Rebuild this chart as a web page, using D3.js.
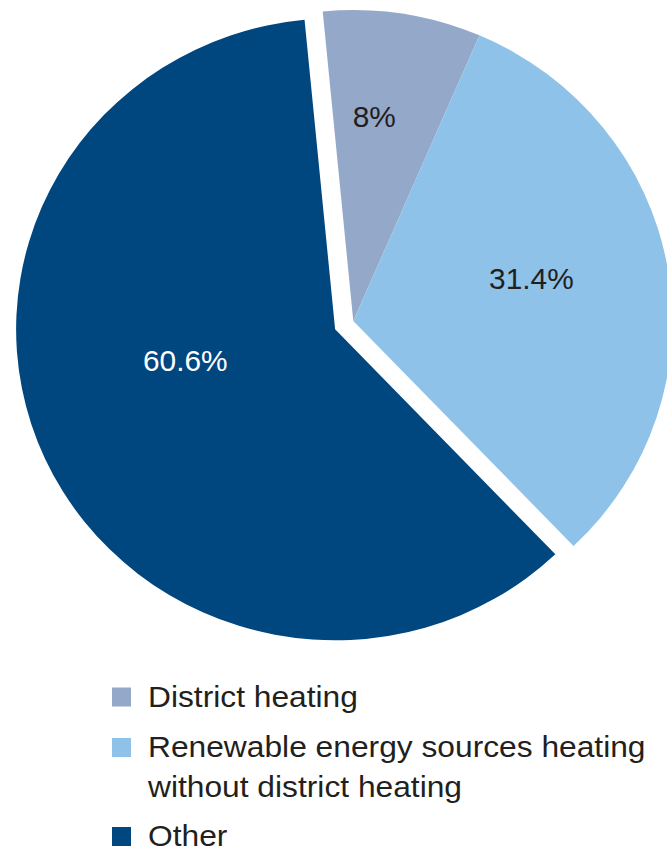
<!DOCTYPE html>
<html>
<head>
<meta charset="utf-8">
<script src="https://cdn.jsdelivr.net/npm/d3@7"></script>
<style>
  html, body { margin: 0; padding: 0; background: #fff; }
  svg { display: block; font-family: "Liberation Sans", Arial, sans-serif; }
</style>
</head>
<body>
<svg id="chart" width="667" height="850"></svg>
<script>
// Heating mix shares (%)
const categories = ["District heating", "Renewable energy sources heating without district heating", "Other"];
const legendLines = [["District heating"], ["Renewable energy sources heating", "without district heating"], ["Other"]];
const values = [8, 31.4, 60.6];
const valueLabels = ["8%", "31.4%", "60.6%"];
const colors = ["#94a9ca", "#8ec2e9", "#00467f"];
const labelColors = ["#231f20", "#231f20", "#ffffff"];

const svg = d3.select("#chart");

const cx = 353.3, cy = 321;
const R = 315;
const sx = 319 / R, sy = 311 / R;     // slightly wider than tall
const explode = [0, 0, 20];            // only "Other" is pulled out
const toRad = Math.PI / 180;
const start = -5.5 * toRad;

const pie = d3.pie().sort(null).value(d => d)
  .startAngle(start).endAngle(start + 2 * Math.PI);
const arcs = pie(values);
const arc = d3.arc().innerRadius(0).outerRadius(R);

// Label placement inside each slice: fraction of radius and angular nudge (deg)
const labelPlace = [
  { r: 0.66, da: -3.2 },
  { r: 0.575, da: -3.7 },
  { r: 0.48, da: 12.6 }
];

const g = svg.append("g")
  .attr("transform", `translate(${cx},${cy}) scale(${sx},${sy})`);

arcs.forEach((a, i) => {
  const mid = (a.startAngle + a.endAngle) / 2;
  const ox = explode[i] * Math.sin(mid) / sx;
  const oy = -explode[i] * Math.cos(mid) / sy;
  g.append("path")
    .attr("d", arc(a))
    .attr("transform", `translate(${ox},${oy})`)
    .attr("fill", colors[i]);
});

arcs.forEach((a, i) => {
  const mid = (a.startAngle + a.endAngle) / 2;
  const ox = explode[i] * Math.sin(mid);
  const oy = -explode[i] * Math.cos(mid);
  const ang = mid + labelPlace[i].da * toRad;
  const rr = labelPlace[i].r * R;
  const x = cx + ox + sx * rr * Math.sin(ang);
  const y = cy + oy - sy * rr * Math.cos(ang);
  svg.append("text")
    .attr("transform", `translate(${x},${y}) scale(1.03,1)`)
    .attr("dy", "0.36em")
    .attr("text-anchor", "middle")
    .attr("font-size", 29)
    .attr("fill", labelColors[i])
    .text(valueLabels[i]);
});

// Legend
const legendTop = [687.5, 738, 827];
const lineGap = 39.5;
const legend = svg.append("g");
categories.forEach((c, i) => {
  legend.append("rect")
    .attr("x", 112).attr("y", legendTop[i])
    .attr("width", 19).attr("height", 19)
    .attr("fill", colors[i]);
  const t = legend.append("text")
    .attr("transform", "translate(148,0) scale(1.095,1)")
    .attr("font-size", 29)
    .attr("fill", "#231f20");
  legendLines[i].forEach((ln, j) => {
    t.append("tspan")
      .attr("x", 0)
      .attr("y", legendTop[i] + 19.3 + j * lineGap)
      .text(ln);
  });
});
</script>
</body>
</html>
